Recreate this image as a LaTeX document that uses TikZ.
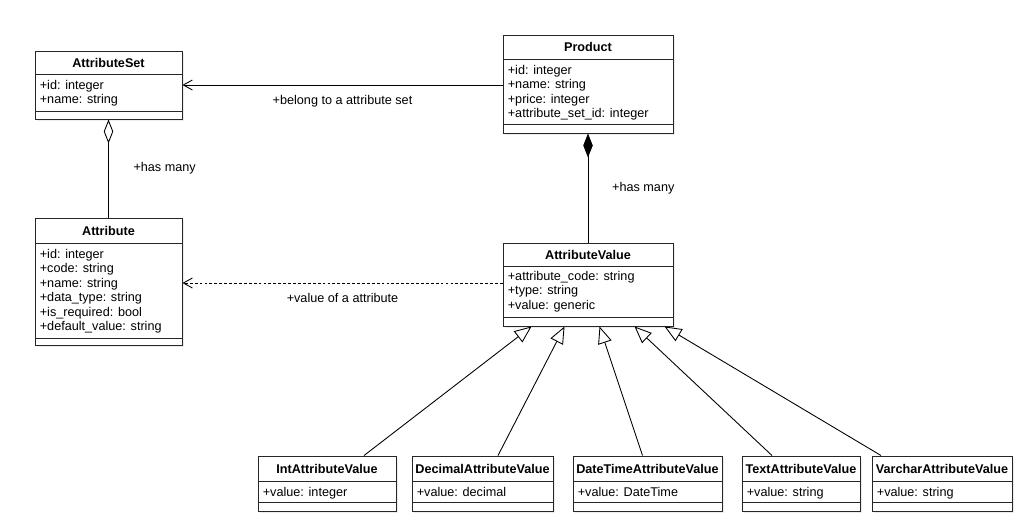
\documentclass[tikz,border=0pt]{standalone}
\usepackage{fontspec}
\setmainfont{Liberation Sans}
\usetikzlibrary{arrows.meta,calc,fit,shadows}

\tikzset{
	classbox/.style={draw=black!85, line width=0.55pt, fill=white, inner sep=0pt,
		drop shadow={shadow xshift=1.2pt, shadow yshift=-1.2pt, opacity=0.15}},
	classtitle/.style={font=\fontsize{7.2}{8.3}\selectfont\bfseries, inner sep=0pt, text height=5.3pt, text depth=0pt},
	classattrs/.style={font=\fontsize{7.2}{8.3}\selectfont, align=left, anchor=north west, inner sep=0pt},
	sepline/.style={draw=black!85, line width=0.55pt},
	lbl/.style={font=\fontsize{7.2}{8.3}\selectfont, inner sep=0pt},
	assoc/.style={line width=0.5pt, -{Straight Barb[length=0.18cm, width=0.2cm]}},
	dep/.style={assoc, dash pattern=on 1.6pt off 1.2pt},
	aggr/.style={line width=0.5pt, {Diamond[open, length=0.48cm, width=0.19cm]}-},
	comp/.style={line width=0.5pt, {Diamond[length=0.48cm, width=0.19cm]}-},
	inh/.style={line width=0.5pt, -{Triangle[open, length=0.34cm, width=0.28cm]}}
}

\begin{document}
\begin{tikzpicture}[x=0.02cm, y=-0.02cm]
	\path[fill=white] (0,0) rectangle (1024,524);
	\useasboundingbox (0,0) rectangle (1024,524);

	% AttributeSet
	\node[classbox, fit={(35,51) (182,119)}] (set) {};
	\draw[sepline] (35,74) -- (182,74);
	\draw[sepline] (35,111) -- (182,111);
	\node[classtitle] (set-t) at (108.5,62.5) {AttributeSet};
	\node[classattrs] (set-a) at (39.5,79.5) {+id: integer\\+name: string};

	% Product
	\node[classbox, fit={(503,35) (673,133)}] (prod) {};
	\draw[sepline] (503,59) -- (673,59);
	\draw[sepline] (503,124) -- (673,124);
	\node[classtitle] (prod-t) at (588,47) {Product};
	\node[classattrs] (prod-a) at (507.5,64.5) {+id: integer\\+name: string\\+price: integer\\+attribute\_set\_id: integer};

	% Attribute
	\node[classbox, fit={(35,218) (182,345)}] (attr) {};
	\draw[sepline] (35,243) -- (182,243);
	\draw[sepline] (35,338) -- (182,338);
	\node[classtitle] (attr-t) at (108.5,230.5) {Attribute};
	\node[classattrs] (attr-a) at (39.5,248.5) {+id: integer\\+code: string\\+name: string\\+data\_type: string\\+is\_required: bool\\+default\_value: string};

	% AttributeValue
	\node[classbox, fit={(503,243) (673,326)}] (val) {};
	\draw[sepline] (503,266) -- (673,266);
	\draw[sepline] (503,317) -- (673,317);
	\node[classtitle] (val-t) at (588,254.5) {AttributeValue};
	\node[classattrs] (val-a) at (507.5,270.5) {+attribute\_code: string\\+type: string\\+value: generic};

	% subclasses
	\node[classbox, fit={(258,456) (396,511)}] (int) {};
	\draw[sepline] (258,481) -- (396,481);
	\draw[sepline] (258,502) -- (396,502);
	\node[classtitle] (int-t) at (327,468.5) {IntAttributeValue};
	\node[classattrs] (int-a) at (262.5,486.5) {+value: integer};

	\node[classbox, fit={(412,456) (553,511)}] (dec) {};
	\draw[sepline] (412,481) -- (553,481);
	\draw[sepline] (412,502) -- (553,502);
	\node[classtitle] (dec-t) at (482.5,468.5) {DecimalAttributeValue};
	\node[classattrs] (dec-a) at (416.5,486.5) {+value: decimal};

	\node[classbox, fit={(573,456) (722,511)}] (date) {};
	\draw[sepline] (573,481) -- (722,481);
	\draw[sepline] (573,502) -- (722,502);
	\node[classtitle] (date-t) at (647.5,468.5) {DateTimeAttributeValue};
	\node[classattrs] (date-a) at (577.5,486.5) {+value: DateTime};

	\node[classbox, fit={(742,456) (860,511)}] (txt) {};
	\draw[sepline] (742,481) -- (860,481);
	\draw[sepline] (742,502) -- (860,502);
	\node[classtitle] (txt-t) at (801,468.5) {TextAttributeValue};
	\node[classattrs] (txt-a) at (746.5,486.5) {+value: string};

	\node[classbox, fit={(872,456) (1012,511)}] (var) {};
	\draw[sepline] (872,481) -- (1012,481);
	\draw[sepline] (872,502) -- (1012,502);
	\node[classtitle] (var-t) at (942,468.5) {VarcharAttributeValue};
	\node[classattrs] (var-a) at (876.5,486.5) {+value: string};

	% relations
	\draw[assoc] (prod.west |- set.east) -- node[lbl, below=5.5pt] (belong) {+belong to a attribute set} (set.east);
	\draw[aggr] (set.south) -- node[lbl, right=14pt] (many1) {+has many} (attr.north);
	\draw[comp] (prod.south) -- node[lbl, right=13.5pt] (many2) {+has many} (val.north);
	\draw[dep] (val.west |- 0,283) -- node[lbl, below=5.5pt] (valueof) {+value of a attribute} (attr.east |- 0,283);

	% inheritance
	\draw[inh] ($(int.north)+(37,0)$) -- ($(val.south west)+(29,0)$);
	\draw[inh] ($(dec.north)+(15.5,0)$) -- ($(val.south west)+(62,0)$);
	\draw[inh] ($(date.north)+(-5,0)$) -- ($(val.south west)+(97,0)$);
	\draw[inh] ($(txt.north)+(-29,0)$) -- ($(val.south west)+(132,0)$);
	\draw[inh] ($(var.north)+(-61,0)$) -- ($(val.south west)+(162,0)$);
\end{tikzpicture}
\end{document}
